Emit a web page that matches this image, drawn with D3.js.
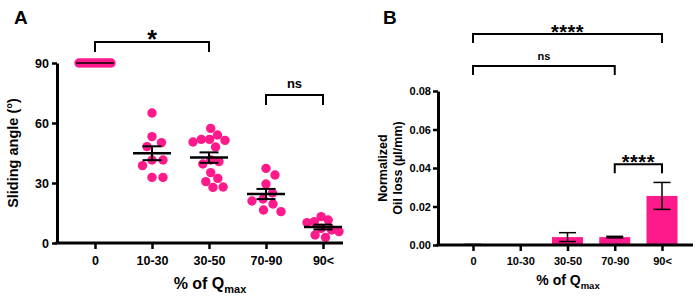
<!DOCTYPE html>
<html>
<head>
<meta charset="utf-8">
<script src="https://cdn.jsdelivr.net/npm/d3@7"></script>
<style>
  body { margin: 0; background: #fff; }
  svg { font-family: "Liberation Sans", Arial, sans-serif; font-weight: bold; }
</style>
</head>
<body>
<svg id="chart" width="700" height="300"></svg>
<script>
// data
var categories = ["0", "10-30", "30-50", "70-90", "90<"];

// panel A: sliding angle (deg), individual measurements
var angle0    = [90, 90, 90, 90, 90, 90, 90, 90, 90, 90, 90, 90];
var angle1030 = [65, 53.2, 50.2, 48.2, 41.5, 41.5, 38.7, 32.8, 32.8];
var angle3050 = [57.3, 54, 51.8, 51.8, 51.3, 50.5, 48, 41.5, 40.7, 39.5, 35.2, 32.3, 30.7, 28, 27.8];
var angle7090 = [37.3, 34, 29.5, 25, 22, 21, 19.5, 16.5, 15.7];
var angle90   = [13.2, 11.5, 10.7, 10.2, 7.3, 6.5, 5.7, 4, 2.8];
var angleGroups = [angle0, angle1030, angle3050, angle7090, angle90];
var yTicksA = [0, 30, 60, 90];

// panel B: normalized oil loss (ul/mm), mean and SEM
var oilMean = [0.0002, 0, 0.0041, 0.0041, 0.0255];
var oilSem  = [0.0001, 0, 0.0023, 0.0004, 0.007];
var yTicksB = [0, 0.02, 0.04, 0.06, 0.08];

// significance brackets (level in data units)
var sigA = [
  { from: "0", to: "30-50", level: 100.5, label: "*" },
  { from: "70-90", to: "90<", level: 74, label: "ns" }
];
var sigB = [
  { from: "0", to: "90<", level: 0.1096, label: "****" },
  { from: "0", to: "70-90", level: 0.0930, label: "ns" },
  { from: "70-90", to: "90<", level: 0.0420, label: "****" }
];

var pink = "#ff1a8c";
var svg = d3.select("#chart");

// simple greedy beeswarm, squeezed when the swarm gets too wide
function swarm(vals, y, minDist, maxOff) {
  var placed = [];
  vals.forEach(function(v) {
    var py = y(v), off = 0;
    for (var k = 0; k < 600; k++) {
      var c = (k % 2 ? 1 : -1) * Math.ceil(k / 2) * 0.5;
      var ok = placed.every(function(p) {
        return (p.dx - c) * (p.dx - c) + (p.y - py) * (p.y - py) >= minDist * minDist;
      });
      if (ok) { off = c; break; }
    }
    placed.push({ dx: off, y: py, v: v });
  });
  var m = d3.max(placed, function(p) { return Math.abs(p.dx); });
  if (m > maxOff) {
    var lo = d3.min(placed, function(p) { return p.dx; }),
        hi = d3.max(placed, function(p) { return p.dx; });
    var k2 = (2 * maxOff) / (hi - lo);
    placed.forEach(function(p) { p.dx = (p.dx - (lo + hi) / 2) * k2; });
  }
  return placed;
}

function bracket(g, x, y, s, drop, fontSize, textGap) {
  var x1 = x(s.from), x2 = x(s.to), yl = y(s.level);
  g.append("path")
    .attr("d", "M" + x1 + "," + (yl + drop) + "V" + yl + "H" + x2 + "V" + (yl + drop))
    .attr("fill", "none").attr("stroke", "#000").attr("stroke-width", 2);
  g.append("text")
    .attr("x", (x1 + x2) / 2).attr("y", yl - textGap)
    .attr("text-anchor", "middle")
    .attr("font-size", fontSize)
    .attr("letter-spacing", s.label.length > 2 ? 0.5 : 0)
    .text(s.label);
}

function styleAxis(g, fs) {
  g.select(".domain").attr("stroke-width", 3);
  g.selectAll(".tick line").attr("stroke-width", 2.5);
  g.selectAll(".tick text").attr("font-size", fs).attr("font-weight", "bold")
    .attr("font-family", "Liberation Sans, Arial, sans-serif").attr("fill", "#000");
}

// ---------------- panel A ----------------
(function() {
  var x = d3.scalePoint().domain(categories).range([95, 323]);
  var y = d3.scaleLinear().domain([0, 90]).range([243, 63]);
  var x0 = 57, xEnd = 343;
  var g = svg.append("g");

  // dots
  angleGroups.forEach(function(vals, i) {
    var pts = swarm(vals, y, 11, 16);
    g.selectAll(null).data(pts).enter().append("circle")
      .attr("cx", function(p) { return x(categories[i]) + p.dx; })
      .attr("cy", function(p) { return p.y; })
      .attr("r", 4.7)
      .attr("fill", pink);
  });

  // mean +/- SEM
  angleGroups.forEach(function(vals, i) {
    var cx = x(categories[i]);
    var mean = d3.mean(vals);
    var sem = vals.length > 1 ? (d3.deviation(vals) || 0) / Math.sqrt(vals.length) : 0;
    g.append("line").attr("x1", cx - 19).attr("x2", cx + 19)
      .attr("y1", y(mean)).attr("y2", y(mean))
      .attr("stroke", "#000").attr("stroke-width", i === 0 ? 1.5 : 2.5);
    if (sem > 0) {
      g.append("line").attr("x1", cx).attr("x2", cx)
        .attr("y1", y(mean + sem)).attr("y2", y(mean - sem))
        .attr("stroke", "#000").attr("stroke-width", 2);
      [mean + sem, mean - sem].forEach(function(v) {
        g.append("line").attr("x1", cx - 9.5).attr("x2", cx + 9.5)
          .attr("y1", y(v)).attr("y2", y(v))
          .attr("stroke", "#000").attr("stroke-width", 2);
      });
    }
  });

  // axes
  var ya = g.append("g").attr("transform", "translate(" + x0 + ",0)")
    .call(d3.axisLeft(y).tickValues(yTicksA).tickSize(5).tickSizeOuter(0).tickPadding(3));
  styleAxis(ya, 12.5);
  var xa = g.append("g").attr("transform", "translate(0," + y(0) + ")")
    .call(d3.axisBottom(x).tickSize(6).tickPadding(7));
  xa.select(".domain").remove();
  styleAxis(xa, 12.5);
  g.append("line").attr("x1", x0 - 1.5).attr("x2", xEnd).attr("y1", y(0)).attr("y2", y(0))
    .attr("stroke", "#000").attr("stroke-width", 3);

  // titles
  g.append("text").attr("transform", "translate(18," + ((y(0) + y(90)) / 2) + ") rotate(-90)")
    .attr("text-anchor", "middle").attr("font-size", 14.5).text("Sliding angle (°)");
  var t = g.append("text").attr("x", 210).attr("y", 289).attr("text-anchor", "middle").attr("font-size", 16);
  t.append("tspan").text("% of Q");
  t.append("tspan").attr("font-size", 11).attr("dy", 4).text("max");
  g.append("text").attr("x", 14).attr("y", 24).attr("font-size", 19).text("A");

  sigA.forEach(function(s) {
    bracket(g, x, y, s, 10, s.label === "*" ? 25 : 13, s.label === "*" ? -5.5 : 7);
  });
})();

// ---------------- panel B ----------------
(function() {
  var x = d3.scalePoint().domain(categories).range([473, 662]);
  var y = d3.scaleLinear().domain([0, 0.08]).range([245, 91]);
  var x0 = 438, xEnd = 693, bw = 31;
  var g = svg.append("g");

  g.selectAll(null).data(oilMean).enter().append("rect")
    .attr("x", function(d, i) { return x(categories[i]) - bw / 2; })
    .attr("y", function(d) { return y(d); })
    .attr("width", bw)
    .attr("height", function(d) { return y(0) - y(d); })
    .attr("fill", pink);

  oilMean.forEach(function(m, i) {
    var cx = x(categories[i]), s = oilSem[i];
    if (m <= 0) return;
    g.append("line").attr("x1", cx).attr("x2", cx)
      .attr("y1", y(m + s)).attr("y2", y(m - s))
      .attr("stroke", "#000").attr("stroke-width", 1.5);
    [m + s, m - s].forEach(function(v) {
      g.append("line").attr("x1", cx - 8.5).attr("x2", cx + 8.5)
        .attr("y1", y(v)).attr("y2", y(v))
        .attr("stroke", "#000").attr("stroke-width", 1.5);
    });
  });

  var ya = g.append("g").attr("transform", "translate(" + x0 + ",0)")
    .call(d3.axisLeft(y).tickValues(yTicksB).tickFormat(d3.format(".2f")).tickSize(5).tickSizeOuter(0).tickPadding(2));
  styleAxis(ya, 11);
  var xa = g.append("g").attr("transform", "translate(0," + y(0) + ")")
    .call(d3.axisBottom(x).tickSize(6).tickPadding(6));
  xa.select(".domain").remove();
  styleAxis(xa, 11);
  g.append("line").attr("x1", x0 - 1.5).attr("x2", xEnd).attr("y1", y(0)).attr("y2", y(0))
    .attr("stroke", "#000").attr("stroke-width", 3);

  var midY = (y(0) + y(0.08)) / 2;
  g.append("text").attr("transform", "translate(387," + midY + ") rotate(-90)")
    .attr("text-anchor", "middle").attr("font-size", 12.5).text("Normalized");
  g.append("text").attr("transform", "translate(402," + midY + ") rotate(-90)")
    .attr("text-anchor", "middle").attr("font-size", 12.5).text("Oil loss (µl/mm)");
  var t = g.append("text").attr("x", 568).attr("y", 285).attr("text-anchor", "middle").attr("font-size", 14);
  t.append("tspan").text("% of Q");
  t.append("tspan").attr("font-size", 9.5).attr("dy", 3.5).text("max");
  g.append("text").attr("x", 383).attr("y", 24).attr("font-size", 19).text("B");

  sigB.forEach(function(s) {
    var stars = s.label !== "ns";
    bracket(g, x, y, s, 9, stars ? 20 : 11, stars ? -4.5 : 6);
  });
})();
</script>
</body>
</html>
